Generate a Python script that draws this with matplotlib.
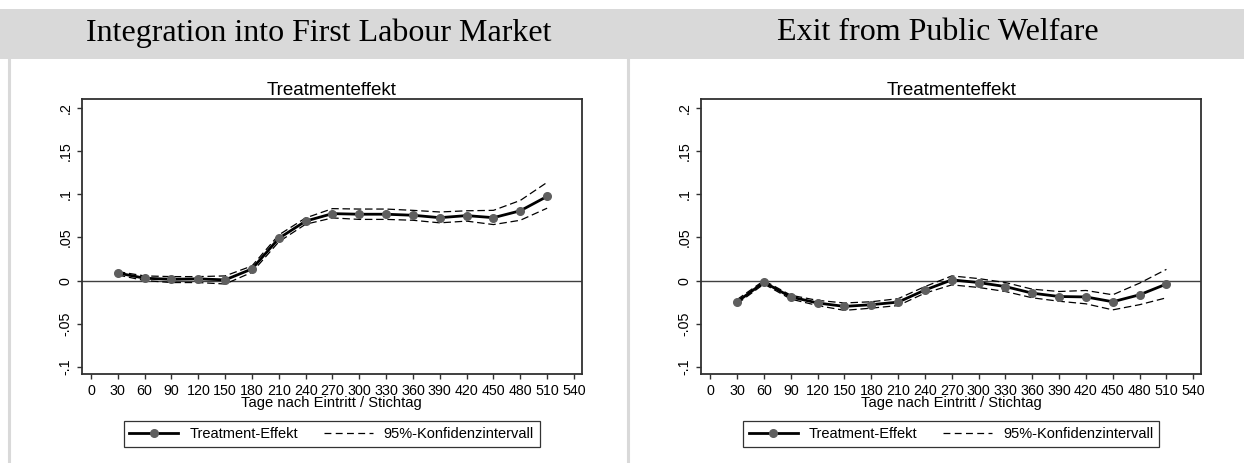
import matplotlib
matplotlib.use("Agg")
import matplotlib.pyplot as plt
from matplotlib.lines import Line2D
from matplotlib.patches import Rectangle

days = [30, 60, 90, 120, 150, 180, 210, 240, 270, 300, 330, 360, 390, 420, 450, 480, 510]

left_effect = [0.0088, 0.0027, 0.0015, 0.0020, 0.0008, 0.0135, 0.049, 0.069, 0.0777, 0.077, 0.077, 0.0758, 0.073, 0.0754, 0.073, 0.081, 0.0977]
left_upper = [0.0104, 0.0054, 0.0046, 0.0046, 0.0054, 0.017, 0.053, 0.0727, 0.0835, 0.083, 0.083, 0.0815, 0.0796, 0.081, 0.0815, 0.093, 0.114]
left_lower = [0.0065, 0.0000, -0.0023, -0.0023, -0.004, 0.0096, 0.045, 0.0654, 0.0727, 0.071, 0.071, 0.070, 0.067, 0.069, 0.065, 0.070, 0.084]

right_effect = [-0.0246, -0.002, -0.019, -0.026, -0.030, -0.028, -0.025, -0.011, 0.0008, -0.0023, -0.007, -0.0146, -0.0185, -0.019, -0.0246, -0.0165, -0.004]
right_upper = [-0.022, 0.000, -0.017, -0.023, -0.026, -0.0246, -0.021, -0.007, 0.0054, 0.0023, -0.0023, -0.010, -0.0127, -0.0115, -0.0165, -0.003, 0.013]
right_lower = [-0.027, -0.004, -0.0215, -0.029, -0.0346, -0.032, -0.029, -0.0146, -0.005, -0.008, -0.0127, -0.020, -0.024, -0.027, -0.034, -0.028, -0.020]

panel_titles = ["Integration into First Labour Market", "Exit from Public Welfare"]
plot_title = "Treatmenteffekt"
x_label = "Tage nach Eintritt / Stichtag"
x_ticks = list(range(0, 541, 30))
y_ticks = [-0.1, -0.05, 0, 0.05, 0.1, 0.15, 0.2]
y_ticklabels = ["-.1", "-.05", "0", ".05", ".1", ".15", ".2"]
legend_labels = ["Treatment-Effekt", "95%-Konfidenzintervall"]

W, H = 1244, 463
fig = plt.figure(figsize=(W / 100, H / 100), dpi=100)
plt.rcParams['font.family'] = ['Liberation Sans', 'DejaVu Sans']

# header band
fig.patches.append(Rectangle((0, 1 - 58.5 / H), 1, 50 / H, transform=fig.transFigure,
                             facecolor="#d9d9d9", edgecolor="none", zorder=0))
# vertical separators
for xp in [9, 628]:
    fig.lines.append(Line2D([xp / W, xp / W], [0, 1 - 58.5 / H], transform=fig.transFigure,
                            color="#d9d9d9", lw=2.2, zorder=0))

marker_col = "#5f5f5f"
panels = [
    (81.7, left_effect, left_upper, left_lower),
    (701.0, right_effect, right_upper, right_lower),
]

for i, (x0, eff, up, lo) in enumerate(panels):
    ax = fig.add_axes([x0 / W, (H - 374.3) / H, 500.3 / W, (374.3 - 99.3) / H])
    ax.axhline(0, color="#404040", lw=1.0, zorder=1)
    ax.plot(days, up, color="black", lw=0.9, dashes=(6, 3), zorder=2)
    ax.plot(days, lo, color="black", lw=0.9, dashes=(6, 3), zorder=2)
    ax.plot(days, eff, color="black", lw=2.0, marker="o", markersize=5.5,
            markerfacecolor=marker_col, markeredgecolor=marker_col, zorder=3)
    ax.set_xlim(-10.4, 549)
    ax.set_ylim(-0.1088, 0.2104)
    ax.set_xticks(x_ticks)
    ax.set_xticklabels([str(t) for t in x_ticks], fontsize=10.3)
    ax.set_yticks(y_ticks)
    ax.set_yticklabels(y_ticklabels, fontsize=10.3, rotation=90, va="center")
    ax.tick_params(axis="both", direction="out", length=3.6, width=1, color="#303030", pad=3)
    ax.tick_params(axis="x", pad=3.3)
    for s in ax.spines.values():
        s.set_color("#303030")
        s.set_linewidth(1.3)
    ax.set_title(plot_title, fontsize=13.5, pad=3)
    ax.set_xlabel(x_label, fontsize=10.6, labelpad=-1.5)

    cx = (x0 + 250 - 13) / W
    fig.text(cx, 1 - 33 / H, panel_titles[i], ha="center", va="center",
             fontsize=23, family="Liberation Serif")

    handles = [
        Line2D([], [], color="black", lw=2.0, marker="o", markersize=5.5,
               markerfacecolor=marker_col, markeredgecolor=marker_col),
        Line2D([], [], color="black", lw=0.9, dashes=(5.5, 3.5)),
    ]
    leg = fig.legend(handles, legend_labels, loc="center",
                     bbox_to_anchor=((x0 + 250) / W, 1 - 433.7 / H), ncol=2, fontsize=10.5,
                     frameon=True, fancybox=False, edgecolor="black", handlelength=3.36,
                     columnspacing=1.78, borderpad=0.4, handletextpad=0.75)
    leg.get_frame().set_linewidth(0.9)

fig.savefig("out.png", dpi=100)
